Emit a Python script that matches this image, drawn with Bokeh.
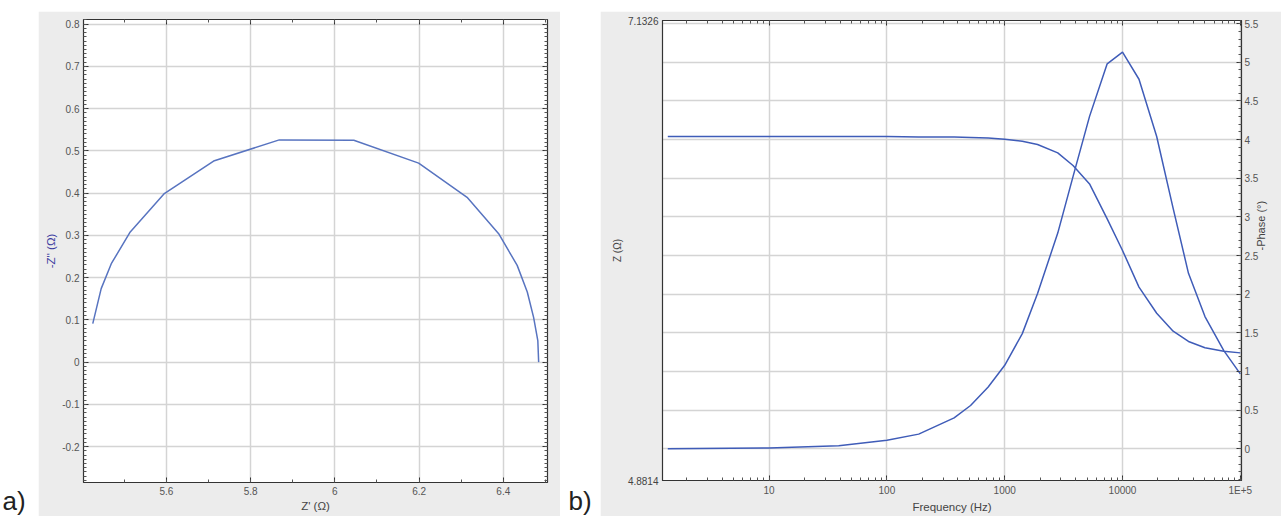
import math
from bokeh.plotting import figure
from bokeh.models import (Range1d, LinearAxis, LogAxis, SingleIntervalTicker, FixedTicker,
                          LogTicker, CustomJSTickFormatter, Label, ColumnDataSource, Spacer)
from bokeh.layouts import row, column
from bokeh.embed import file_html
from bokeh.resources import INLINE

# ---------------- data: panel a (Nyquist) ----------------
z_real = [5.425, 5.445, 5.469, 5.514, 5.594, 5.712, 5.868, 6.045, 6.199,
          6.314, 6.389, 6.433, 6.457, 6.472, 6.482, 6.484]
z_imag_neg = [0.091, 0.174, 0.233, 0.308, 0.398, 0.476, 0.526, 0.525, 0.471,
              0.390, 0.304, 0.229, 0.166, 0.106, 0.051, 0.0]

# ---------------- data: panel b (Bode) ----------------
freq = [1.38, 10, 39, 100, 186, 372, 513, 724, 1000, 1410, 1900, 2820, 3800,
        5250, 7410, 10000, 13800, 19500, 26900, 36300, 50100, 72400, 100000]
z_mod = [6.565, 6.565, 6.565, 6.565, 6.563, 6.562, 6.560, 6.557, 6.552, 6.542,
         6.526, 6.485, 6.423, 6.333, 6.162, 6.007, 5.828, 5.700, 5.612, 5.562,
         5.531, 5.514, 5.506]
phase = [0.0, 0.01, 0.04, 0.11, 0.19, 0.40, 0.56, 0.80, 1.08, 1.49, 2.01, 2.79,
         3.52, 4.30, 4.98, 5.13, 4.78, 4.04, 3.11, 2.27, 1.71, 1.27, 0.97]

z_axis_ticks = [4.8814, 7.1326]
panel_labels = ["a)", "b)"]

FONT = "Liberation Sans"
GRAY = "#ececec"
LINE_A = "#5874c0"
LINE_B = "#3f5cb8"
GRID = "#d4d4d4"


def style_axis(ax, show_labels=True):
    ax.axis_line_color = "#333333"
    ax.axis_line_width = 1.2
    ax.major_tick_in = 5
    ax.major_tick_out = 0
    ax.minor_tick_in = 3
    ax.minor_tick_out = 0
    ax.major_tick_line_color = "#333333"
    ax.minor_tick_line_color = "#555555"
    ax.major_label_text_font = FONT
    ax.major_label_text_color = "#555555"
    ax.axis_label_text_font = FONT
    ax.axis_label_text_font_style = "normal"
    ax.axis_label_text_color = "#444444"
    if show_labels:
        ax.major_label_text_font_size = "10px"
        ax.major_label_standoff = 4
        ax.axis_label_text_font_size = "11.5px"
        ax.axis_label_standoff = 2
    else:
        ax.major_label_text_font_size = "0px"
        ax.major_label_standoff = 0


fmt_num = CustomJSTickFormatter(code="return String(Math.round(tick*100)/100);")
fmt_none = CustomJSTickFormatter(code="return '';")


def label_fig(w, txt, dx):
    f = figure(width=w, height=516, x_range=Range1d(0, w), y_range=Range1d(0, 516),
               output_backend="svg", toolbar_location=None,
               x_axis_location=None, y_axis_location=None, min_border=0,
               outline_line_color=None, border_fill_color="white",
               background_fill_color="white")
    f.xgrid.visible = False
    f.ygrid.visible = False
    f.add_layout(Label(x=dx, y=1, text=txt, text_font=FONT, text_font_size="26px",
                       text_color="#222222", text_align="left", text_baseline="bottom"))
    return f


# ---------------- panel a ----------------
pa = figure(width=522, height=505, x_range=Range1d(5.403, 6.505),
            y_range=Range1d(-0.285, 0.811), output_backend="svg", toolbar_location=None,
            min_border_left=45, min_border_right=13, min_border_top=8, min_border_bottom=34,
            border_fill_color=GRAY, background_fill_color="white",
            outline_line_color="#333333")
xt_a = SingleIntervalTicker(interval=0.2, num_minor_ticks=2)
yt_a = SingleIntervalTicker(interval=0.1, num_minor_ticks=10)
pa.xaxis.ticker = xt_a
pa.yaxis.ticker = yt_a
pa.xaxis.formatter = fmt_num
pa.yaxis.formatter = fmt_num
pa.xaxis.axis_label = "Z' (Ω)"
pa.yaxis.axis_label = "-Z'' (Ω)"
style_axis(pa.xaxis[0])
style_axis(pa.yaxis[0])
pa.yaxis.axis_label_text_color = "#3c3ca0"
top_a = LinearAxis(ticker=xt_a, formatter=fmt_none)
right_a = LinearAxis(ticker=yt_a, formatter=fmt_none)
style_axis(top_a, False)
style_axis(right_a, False)
pa.add_layout(top_a, "above")
pa.add_layout(right_a, "right")
pa.xgrid.grid_line_color = GRID
pa.ygrid.grid_line_color = GRID
pa.xgrid.grid_line_width = 1.5
pa.ygrid.grid_line_width = 1.5
src_a = ColumnDataSource(dict(x=z_real, y=z_imag_neg))
pa.line("x", "y", source=src_a, line_color=LINE_A, line_width=1.5)

# ---------------- panel b ----------------
pb = figure(width=681, height=505, x_axis_type="log",
            x_range=Range1d(10 ** 0.095, 10 ** 5.01), y_range=Range1d(-0.41, 5.54),
            y_axis_location="right", output_backend="svg", toolbar_location=None,
            min_border_left=62, min_border_right=40, min_border_top=9, min_border_bottom=36,
            border_fill_color=GRAY, background_fill_color="white",
            outline_line_color="#333333")
pb.extra_y_ranges = {"z": Range1d(4.8814, 7.1326)}
xt_b = LogTicker(num_minor_ticks=10)
pb.xaxis.ticker = xt_b
pb.xaxis.formatter = CustomJSTickFormatter(
    code="if (tick >= 99999) { return '1E+5'; } return String(Math.round(tick));")
pb.xaxis.axis_label = "Frequency (Hz)"
yt_b = SingleIntervalTicker(interval=0.5, num_minor_ticks=5)
pb.yaxis.ticker = yt_b
pb.yaxis.formatter = fmt_num
pb.yaxis.axis_label = "-Phase (°)"
style_axis(pb.xaxis[0])
style_axis(pb.yaxis[0])
pb.yaxis.major_label_standoff = 3
pb.yaxis.axis_label_standoff = 0
pb.yaxis.axis_label_text_font_size = "11px"
pb.yaxis.axis_label_orientation = math.pi / 2
z_axis = LinearAxis(y_range_name="z", ticker=FixedTicker(ticks=z_axis_ticks),
                    formatter=CustomJSTickFormatter(code="return tick.toFixed(4);"),
                    axis_label="Z (Ω)")
style_axis(z_axis)
z_axis.axis_label_text_font_size = "10px"
z_axis.major_label_text_color = "#444444"
pb.add_layout(z_axis, "left")
top_b = LogAxis(ticker=xt_b, formatter=fmt_none)
style_axis(top_b, False)
pb.add_layout(top_b, "above")
pb.xgrid.grid_line_color = GRID
pb.ygrid.grid_line_color = GRID
pb.xgrid.grid_line_width = 1.5
pb.ygrid.grid_line_width = 1.5
src_b = ColumnDataSource(dict(f=freq, z=z_mod, ph=phase))
pb.line("f", "z", source=src_b, y_range_name="z", line_color=LINE_B, line_width=1.5)
pb.line("f", "ph", source=src_b, line_color=LINE_B, line_width=1.5)

la = label_fig(38, panel_labels[0], 2)
lb = label_fig(40, panel_labels[1], 8)

layout = row(la, column(Spacer(height=11), pa), lb, column(Spacer(height=11), pb))
open("out.html", "w").write(file_html(layout, INLINE))
